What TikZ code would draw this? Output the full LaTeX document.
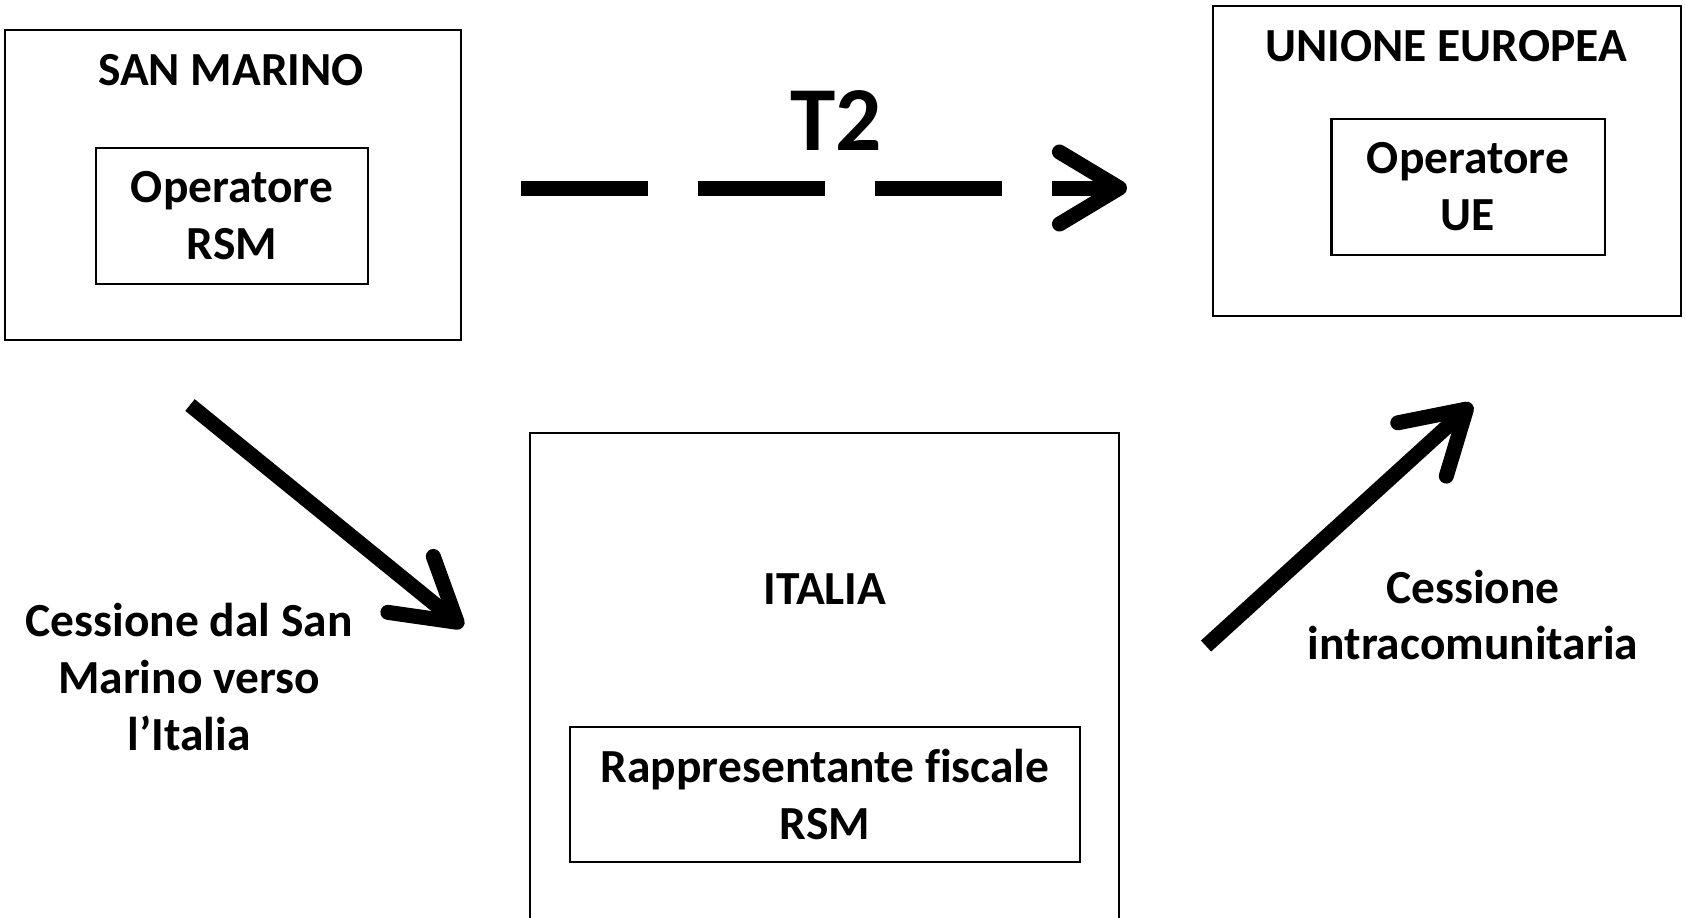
\documentclass[tikz,border=0pt]{standalone}
\usepackage{fontspec}
\setmainfont[Ligatures=NoCommon]{Carlito}
\usetikzlibrary{positioning,arrows.meta}

\begin{document}
\begin{tikzpicture}[x=0.01cm,y=-0.01cm,
	every node/.style={font=\bfseries\fontsize{13.5}{16.2}\selectfont,align=center},
	stato/.style={draw,line width=0.6pt,inner sep=0pt},
	ente/.style={draw,line width=0.6pt,inner sep=0pt,minimum height=1.36cm},
	freccia/.style={line width=0.15cm,-{Straight Barb[round,length=0.6cm,width=0.72cm]}}]
	\useasboundingbox (0,0) rectangle (1686,917);

	\node[stato,minimum width=4.56cm,minimum height=3.1cm] (SM) at (233,185) {};
	\node (SMt) at (231,70) {SAN MARINO};
	\node[ente,minimum width=2.72cm] (RSM) at (232,216) {Operatore\\RSM};

	\node[stato,minimum width=4.68cm,minimum height=3.1cm] (UE) at (1447,161) {};
	\node (UEt) at (1446,46) {UNIONE EUROPEA};
	\node[ente,minimum width=2.73cm] (OUE) at (1468,187) {Operatore\\UE};

	\node[stato,minimum width=5.89cm,minimum height=5.67cm] (IT) at (824.5,716.5) {};
	\node (ITt) at (825,589) {ITALIA};
	\node[ente,minimum width=5.1cm,minimum height=1.35cm] (RF) at (825,794.5) {Rappresentante fiscale\\RSM};

	\coordinate (a1) at (521,188);
	\coordinate (b1) at (1127,188);
	\coordinate (a2) at (190,405);
	\coordinate (b2) at (463,627);
	\coordinate (a3) at (1206,646);
	\coordinate (b3) at (1472,404);

	\draw[freccia,dash pattern=on 1.27cm off 0.5cm] (a1) -- (b1);
	\node[font=\bfseries\fontsize{26}{30}\selectfont] (T2) at (836,121) {T2};
	\draw[freccia] (a2) -- (b2);
	\draw[freccia] (a3) -- (b3);

	\node (c1) at (189,677) {Cessione dal San\\Marino verso\\l’Italia};
	\node (c2) at (1473,615) {Cessione\\intracomunitaria};
\end{tikzpicture}
\end{document}
